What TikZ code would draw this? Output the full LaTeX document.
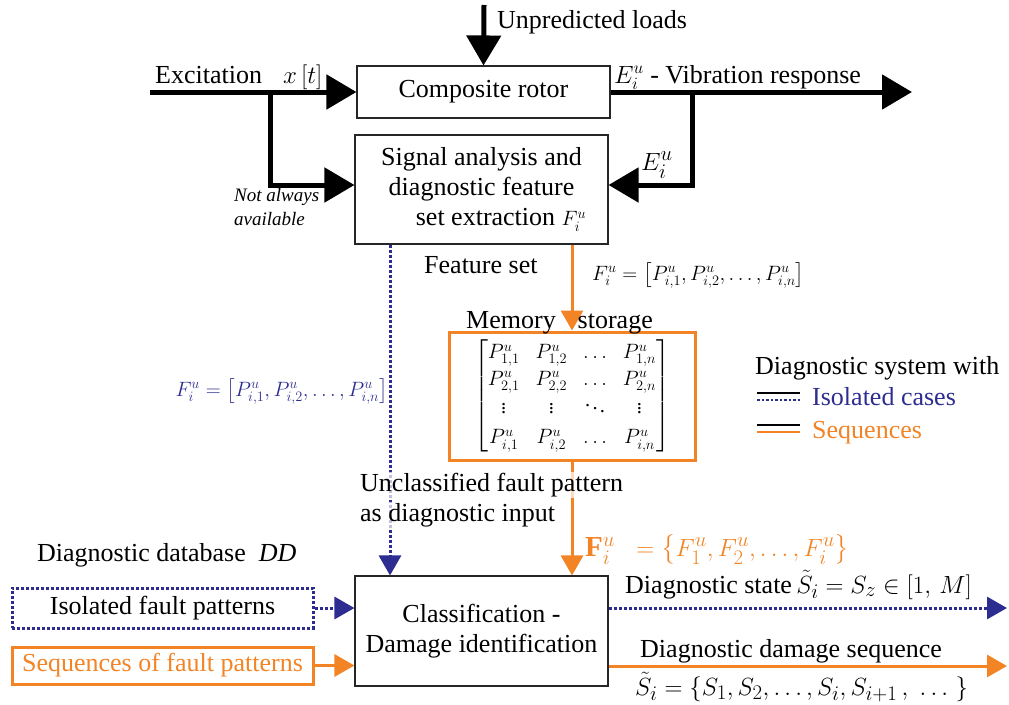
\documentclass[tikz,border=0pt]{standalone}
\usepackage{amsmath}
\usepackage{fontspec}
\setmainfont{Liberation Serif}
\usetikzlibrary{arrows.meta,calc}
\definecolor{dblue}{RGB}{45,45,145}
\definecolor{dorange}{RGB}{242,132,38}
\tikzset{
  box/.style={draw=black!85, line width=1.1pt, minimum width=253pt, inner sep=0pt, align=center},
  blk/.style={line width=5pt, -{Triangle[length=30pt,width=34pt]}},
  org/.style={draw=dorange, line width=3pt, -{Triangle[length=20pt,width=22pt]}},
  blu/.style={draw=dblue, line width=3pt, dotted, -{Triangle[length=20pt,width=22pt]}},
  txt/.style={inner sep=0pt, anchor=base west},
  small/.style={font=\fontsize{21.5}{24}\selectfont},
  fade/.style={fill=white, fill opacity=0.7, text opacity=1, inner sep=1pt, anchor=base west}
}
\newcommand{\mathbig}{\fontsize{29}{32}\selectfont}
\newcommand{\mathbigger}{\fontsize{30.5}{33}\selectfont}
\begin{document}
\begin{tikzpicture}[x=1pt,y=-1pt,font=\fontsize{26}{30}\selectfont]
\useasboundingbox (0,0) rectangle (1009,704);
% boxes
\node[box, minimum height=52pt] (rotor) at (483.5,92) {Composite rotor};
\node[box, minimum height=109pt] (signal) at (481.5,189.5) {Signal analysis and\\diagnostic feature\\\hspace*{1.5em}set extraction~{\fontsize{21}{24}\selectfont$F_i^u$}};
\node[draw=dorange, line width=3pt, minimum width=246pt, minimum height=128pt, inner sep=0pt] (memory) at (572,396)
  {\fontsize{20.5}{24}\selectfont\setlength{\arraycolsep}{8pt}\renewcommand{\arraystretch}{1.1}$\begin{bmatrix}
   P_{1,1}^u & P_{1,2}^u & \ldots & P_{1,n}^u\\
   P_{2,1}^u & P_{2,2}^u & \ldots & P_{2,n}^u\\[2pt]
   \vdots & \vdots & \ddots & \vdots\\[4pt]
   P_{i,1}^u & P_{i,2}^u & \ldots & P_{i,n}^u
  \end{bmatrix}$};
\node[box, minimum height=110pt] (classif) at (481.5,631) {Classification -\\Damage identification};
\node[draw=dblue, line width=3pt, dotted, minimum width=301pt, minimum height=40pt, inner sep=0pt] (iso) at (162.5,608) {Isolated fault patterns};
\node[draw=dorange, line width=3pt, minimum width=301pt, minimum height=37pt, inner sep=0pt, text=dorange] (seq) at (162.5,665.5) {Sequences of fault patterns};
% coordinates
\coordinate (load) at (484,5);
\coordinate (exc) at (150,92);
\coordinate (br1) at (270,92);
\coordinate (out) at (912,92);
\coordinate (br2) at (692,92);
\coordinate (stateout) at (1007,608);
\coordinate (seqout) at (1007,666);
% black connectors
\draw[blk] (load) -- (rotor.north);
\draw[blk] (exc) -- (rotor.west);
\draw[blk] (br1) |- ($(signal.west)+(0,-4.5)$);
\draw[blk] (rotor.east) -- (out);
\draw[blk] (br2) |- ($(signal.east)+(0,-4.5)$);
% orange & blue
\draw[org] (memory.north |- signal.south) -- (memory.north);
\draw[org] (memory.south) -- (memory.south |- classif.north);
\draw[blu] (signal.south -| 390,0) -- (classif.north -| 390,0);
\draw[blu] (iso.east) -- (iso.east -| classif.west);
\draw[org] (seq.east) -- (seq.east -| classif.west);
\draw[blu] (classif.east |- stateout) -- (stateout);
\draw[org] (classif.east |- seqout) -- (seqout);
% labels
\node[txt] (lload) at (497,28) {Unpredicted loads};
\node[txt] (lexc) at (155,83) {Excitation};
\node[txt] (lx) at (283,83) {$x\left[t\right]$};
\node[txt] (lvib) at (614,83) {$E_i^u$ - Vibration response};
\node[txt] (le) at (641,170) {\mathbig$E_i^u$};
\node[txt, font=\fontsize{19}{23}\selectfont\itshape] (lna1) at (234,201) {Not always};
\node[txt, font=\fontsize{19}{23}\selectfont\itshape] (lna2) at (234,225) {available};
\node[txt] (lfs) at (424,273) {Feature set};
\node[txt, small] (lfb) at (592,280) {$F_i^u = \left[P_{i,1}^u, P_{i,2}^u, \ldots, P_{i,n}^u\right]$};
\node[inner sep=0pt, anchor=base east, small, text=dblue] (lfblue) at (388,396) {$F_i^u = \left[P_{i,1}^u, P_{i,2}^u, \ldots, P_{i,n}^u\right]$};
\node[txt] (lmem) at (466,328) {Memory\hspace{22pt}storage};
\node[txt] (lleg) at (755,374) {Diagnostic system with};
\node[txt, text=dblue] (liso) at (812,405) {Isolated cases};
\node[txt, text=dorange] (lseq) at (812,438) {Sequences};
\draw[line width=2.5pt] (757,393) -- (800,393);
\draw[dblue, line width=2.5pt, dotted] (757,400) -- (800,400);
\draw[line width=2.5pt] (757,425) -- (800,425);
\draw[dorange, line width=2.5pt] (757,432) -- (800,432);
\node[fade] (lun1) at (359,491) {Unclassified fault pattern};
\node[fade] (lun2) at (359,521) {as diagnostic input};
\node[txt, text=dorange] (lbf) at (585,556) {\mathbig$\mathbf{F}_i^u\ \ = \left\{F_1^u, F_2^u, \ldots, F_i^u\right\}$};
\node[txt] (ldd) at (37,561) {Diagnostic database~ \textit{DD}};
\node[txt] (lstate) at (625,593) {Diagnostic state\,{\mathbigger$\tilde S_i = S_z \in \left[1,\, M\right]$}};
\node[txt] (ldam) at (640,657) {Diagnostic damage sequence};
\node[txt] (lsi) at (635,695) {\mathbig$\tilde S_i = \left\{S_1, S_2, \ldots, S_i, S_{i+1}\,,\ \ldots\ \right\}$};
\end{tikzpicture}
\end{document}
